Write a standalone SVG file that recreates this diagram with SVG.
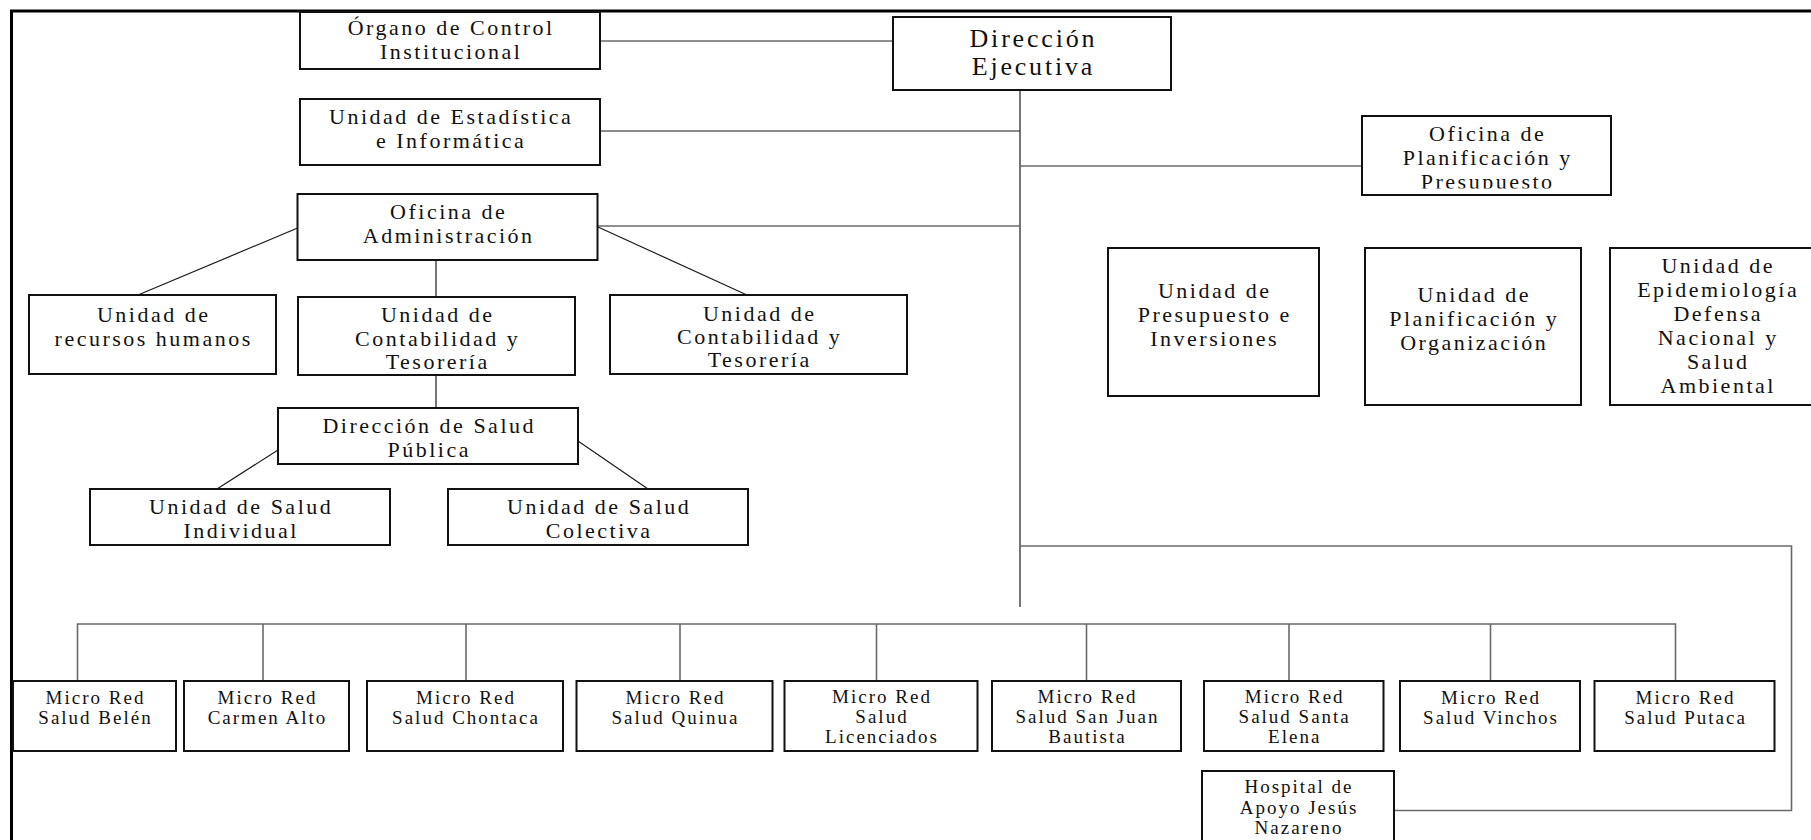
<svg xmlns="http://www.w3.org/2000/svg" width="1811" height="840" viewBox="0 0 1811 840">
<style>
.bx{fill:#fff;stroke:#111;stroke-width:2}
.t{font-family:"Liberation Serif","Times New Roman",serif;font-size:22px;letter-spacing:2.5px;fill:#111;text-anchor:middle}
.tl{font-family:"Liberation Serif","Times New Roman",serif;font-size:26px;letter-spacing:2.8px;fill:#111;text-anchor:middle}
.ts{font-family:"Liberation Serif","Times New Roman",serif;font-size:19px;letter-spacing:2px;fill:#111;text-anchor:middle}
.c{fill:none;stroke:#1a1a1a;stroke-width:1.2}
.cg{fill:none;stroke:#6a6a6a;stroke-width:1.6}
.fr{fill:none;stroke:#000;stroke-width:3}
</style>
<defs>
<clipPath id="clipPlan"><rect x="1362" y="116" width="249" height="72.5"/></clipPath>
</defs>
<rect width="1811" height="840" fill="#fff"/>
<path class="fr" d="M11.5,840 V11 H1811"/>
<g id="connectors">
<path class="cg" d="M600,41 H893"/>
<path class="c" d="M1020,90 V607"/>
<path class="c" d="M600,131 H1020"/>
<path class="cg" d="M1020,166 H1362"/>
<path class="cg" d="M597.5,226 H1020"/>
<path class="c" d="M300,227 L138,295"/>
<path class="c" d="M436,260 V297"/>
<path class="c" d="M598,227 L747,295"/>
<path class="c" d="M436,375 V408"/>
<path class="c" d="M278,450 L217,489"/>
<path class="c" d="M578,441 L648,489"/>
<path class="cg" d="M1020,546 H1791.5 V810.5 H1394"/>
<path class="cg" d="M77.5,681 V624 H1675.5 V681"/>
<path class="cg" d="M263,624 V681 M466,624 V681 M680,624 V681 M876.5,624 V681 M1086.5,624 V681 M1289,624 V681 M1490.5,624 V681"/>
</g>
<g id="organo"><rect class="bx" x="300" y="12" width="300" height="57"/><text class="t" x="451.2" y="35">Órgano de Control</text><text class="t" x="451.2" y="59">Institucional</text></g>
<g id="direccion"><rect class="bx" x="893" y="17" width="278" height="73"/><text class="tl" x="1033.4" y="47">Dirección</text><text class="tl" x="1033.4" y="75">Ejecutiva</text></g>
<g id="estadistica"><rect class="bx" x="300" y="99" width="300" height="66"/><text class="t" x="451.2" y="124">Unidad de Estadística</text><text class="t" x="451.2" y="148">e Informática</text></g>
<g id="administracion"><rect class="bx" x="297.5" y="194" width="300" height="66"/><text class="t" x="448.7" y="219">Oficina de</text><text class="t" x="448.7" y="243">Administración</text></g>
<g id="planificacion-presupuesto"><rect class="bx" x="1362" y="116" width="249" height="79"/><g clip-path="url(#clipPlan)"><text class="t" x="1487.7" y="141">Oficina de</text><text class="t" x="1487.7" y="165">Planificación y</text><text class="t" x="1487.7" y="189">Presupuesto</text></g></g>
<g id="rrhh"><rect class="bx" x="29" y="295" width="247" height="79"/><text class="t" x="153.7" y="322">Unidad de</text><text class="t" x="153.7" y="346">recursos humanos</text></g>
<g id="contabilidad1"><rect class="bx" x="298" y="297" width="277" height="78"/><text class="t" x="437.7" y="322">Unidad de</text><text class="t" x="437.7" y="346">Contabilidad y</text><text class="t" x="437.7" y="369">Tesorería</text></g>
<g id="contabilidad2"><rect class="bx" x="610" y="295" width="297" height="79"/><text class="t" x="759.7" y="320.5">Unidad de</text><text class="t" x="759.7" y="344">Contabilidad y</text><text class="t" x="759.7" y="367">Tesorería</text></g>
<g id="presupuesto-inversiones"><rect class="bx" x="1108" y="248" width="211" height="148"/><text class="t" x="1214.7" y="298">Unidad de</text><text class="t" x="1214.7" y="322">Presupuesto e</text><text class="t" x="1214.7" y="346">Inversiones</text></g>
<g id="planificacion-organizacion"><rect class="bx" x="1365" y="248" width="216" height="157"/><text class="t" x="1474.2" y="302">Unidad de</text><text class="t" x="1474.2" y="326">Planificación y</text><text class="t" x="1474.2" y="350">Organización</text></g>
<g id="epidemiologia"><rect class="bx" x="1610" y="248" width="216" height="157"/><text class="t" x="1718.2" y="273">Unidad de</text><text class="t" x="1718.2" y="297">Epidemiología</text><text class="t" x="1718.2" y="321">Defensa</text><text class="t" x="1718.2" y="345">Nacional y</text><text class="t" x="1718.2" y="369">Salud</text><text class="t" x="1718.2" y="393">Ambiental</text></g>
<g id="salud-publica"><rect class="bx" x="278" y="408" width="300" height="56"/><text class="t" x="429.2" y="433">Dirección de Salud</text><text class="t" x="429.2" y="457">Pública</text></g>
<g id="salud-individual"><rect class="bx" x="90" y="489" width="300" height="56"/><text class="t" x="241.2" y="514">Unidad de Salud</text><text class="t" x="241.2" y="538">Individual</text></g>
<g id="salud-colectiva"><rect class="bx" x="448" y="489" width="300" height="56"/><text class="t" x="599.2" y="514">Unidad de Salud</text><text class="t" x="599.2" y="538">Colectiva</text></g>
<g id="mr-belen"><rect class="bx" x="13" y="681" width="163" height="70"/><text class="ts" x="95.5" y="703.5">Micro Red</text><text class="ts" x="95.5" y="724">Salud Belén</text></g>
<g id="mr-carmen-alto"><rect class="bx" x="184" y="681" width="165" height="70"/><text class="ts" x="267.5" y="703.5">Micro Red</text><text class="ts" x="267.5" y="724">Carmen Alto</text></g>
<g id="mr-chontaca"><rect class="bx" x="367" y="681" width="196" height="70"/><text class="ts" x="466" y="703.5">Micro Red</text><text class="ts" x="466" y="724">Salud Chontaca</text></g>
<g id="mr-quinua"><rect class="bx" x="576.5" y="681" width="196" height="70"/><text class="ts" x="675.5" y="703.5">Micro Red</text><text class="ts" x="675.5" y="724">Salud Quinua</text></g>
<g id="mr-licenciados"><rect class="bx" x="784.5" y="681" width="193" height="70"/><text class="ts" x="882" y="703">Micro Red</text><text class="ts" x="882" y="722.5">Salud</text><text class="ts" x="882" y="742.5">Licenciados</text></g>
<g id="mr-san-juan"><rect class="bx" x="992" y="681" width="189" height="70"/><text class="ts" x="1087.5" y="703">Micro Red</text><text class="ts" x="1087.5" y="722.5">Salud San Juan</text><text class="ts" x="1087.5" y="742.5">Bautista</text></g>
<g id="mr-santa-elena"><rect class="bx" x="1204" y="681" width="179.5" height="70"/><text class="ts" x="1294.7" y="703">Micro Red</text><text class="ts" x="1294.7" y="722.5">Salud Santa</text><text class="ts" x="1294.7" y="742.5">Elena</text></g>
<g id="mr-vinchos"><rect class="bx" x="1400" y="681" width="180" height="70"/><text class="ts" x="1491" y="704">Micro Red</text><text class="ts" x="1491" y="724">Salud Vinchos</text></g>
<g id="mr-putaca"><rect class="bx" x="1594.5" y="681" width="180" height="70"/><text class="ts" x="1685.5" y="704">Micro Red</text><text class="ts" x="1685.5" y="724">Salud Putaca</text></g>
<g id="hospital"><rect class="bx" x="1202" y="771" width="192" height="80"/><text class="ts" x="1299" y="793">Hospital de</text><text class="ts" x="1299" y="813.5">Apoyo Jesús</text><text class="ts" x="1299" y="833.5">Nazareno</text></g>
</svg>
